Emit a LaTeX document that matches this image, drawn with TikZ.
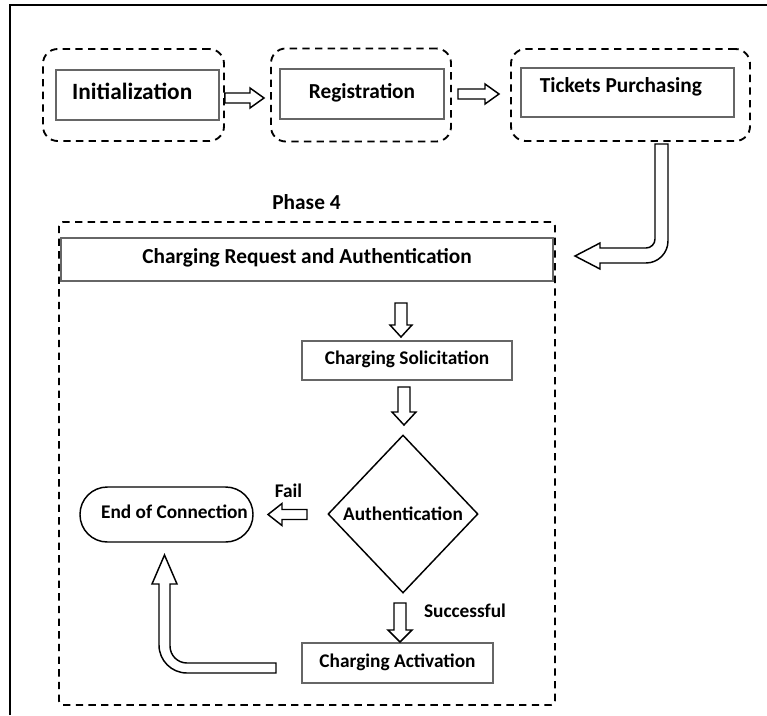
\documentclass[tikz,border=0pt]{standalone}
\usepackage{fontspec}
\setmainfont{Carlito}
\usetikzlibrary{shapes.geometric,calc}

% text sizes
\newcommand{\hugetxt}{\fontsize{17.5pt}{20pt}\selectfont\bfseries}
\newcommand{\bigtxt}{\fontsize{16pt}{19pt}\selectfont\bfseries}
\newcommand{\smalltxt}{\fontsize{14.5pt}{17pt}\selectfont\bfseries}

% hollow block arrow from #1 (tail) to #2 (tip);
% #3 shaft half width, #4 head half width, #5 head length (all in px)
\newcommand{\blockarrow}[5]{%
  \path[hollow] let \p1=(#1), \p2=(#2),
      \n1={atan2(\y2-\y1,\x2-\x1)}, \n2={veclen(\x2-\x1,\y2-\y1)} in
    [shift={(\p1)}, rotate=\n1]
    (0pt,{-#3*0.75pt}) -- ({\n2*1pt-#5*0.75pt},{-#3*0.75pt})
    -- ({\n2*1pt-#5*0.75pt},{-#4*0.75pt}) -- ({\n2*1pt},0pt)
    -- ({\n2*1pt-#5*0.75pt},{#4*0.75pt}) -- ({\n2*1pt-#5*0.75pt},{#3*0.75pt})
    -- (0pt,{#3*0.75pt}) -- cycle;
}

\tikzset{
  sz/.style 2 args={minimum width=#1*0.75pt, minimum height=#2*0.75pt},
  frame/.style={line width=1.1pt, black},
  grp/.style={draw=black, line width=1.4pt, dash pattern=on 5.5pt off 4pt,
    rounded corners=11pt, inner sep=0pt},
  phasebox/.style={draw=black, line width=1.4pt, dash pattern=on 5.5pt off 4pt,
    rounded corners=3pt, inner sep=0pt},
  box/.style={draw=black!60, line width=1pt, inner sep=0pt, fill=white,
    text height=0.644em, text depth=0pt},
  hollow/.style={draw=black, fill=white, line width=1.1pt, line join=miter},
  lbl/.style={inner sep=0pt, text height=0.644em, text depth=0pt},
}

\begin{document}
\begin{tikzpicture}[x=0.75pt, y=-0.75pt]
\useasboundingbox (0,0) rectangle (767,715);
\fill[white] (0,0) rectangle (767,715);
\draw[frame] (10,715) -- (10,5) -- (767,5);

% ---- first three phases ----
\node[grp, sz={181}{92}] (g1) at (133.5,95) {};
\node[grp, sz={180}{93}] (g2) at (361,95) {};
\node[grp, sz={239}{92}] (g3) at (630.5,95) {};

\node[box, sz={163}{50}, font=\hugetxt] (b1) at (137.5,95) {Initialization\hspace*{8pt}};
\node[box, sz={164}{50}, font=\bigtxt] (b2) at (362,94) {Registration};
\node[box, sz={213}{49}, font=\bigtxt, text depth=6.5pt] (b3) at (627.5,92.5)
  {Tickets Purchasing\hspace*{10pt}};

\coordinate (a1t) at (g1.east |- 0,98);
\coordinate (a1h) at (264,98);
\coordinate (a2t) at (458,94);
\coordinate (a2h) at (499,94);
\blockarrow{a1t}{a1h}{5}{10}{14}
\blockarrow{a2t}{a2h}{5}{10}{14}

% bent arrow from the ticket phase down to phase 4
\path[hollow] (655,144) -- (668,144) -- (668,241)
  .. controls (668,253.1) and (658.1,263) .. (646,263)
  -- (600,263) -- (600,269) -- (575,256) -- (600,243) -- (600,248)
  -- (646,248) .. controls (650.97,248) and (655,243.97) .. (655,239) -- cycle;

% ---- phase 4 ----
\node[lbl, font=\bigtxt] (p4l) at (306.5,205) {Phase 4};
\node[phasebox, sz={496}{483}] (p4) at (307,463.5) {};
\node[box, sz={492}{43}, font=\bigtxt] (req) at (307,259.5) {Charging Request and Authentication};
\node[box, sz={210}{39}, font=\smalltxt] (sol) at (407,360.5) {Charging Solicitation};
\node[diamond, draw=black, line width=1.1pt, inner sep=0pt, minimum width=112.5pt,
  minimum height=118.5pt, font=\smalltxt] (auth) at (403,514) {Authentication};
\node[draw=black, line width=1.1pt, rounded corners=20.5pt, inner sep=0pt, sz={173}{55},
  font=\smalltxt, text height=0.644em, text depth=0pt] (end) at (166.5,514.5)
  {\hspace*{12pt}End of Connection};
\node[box, sz={191}{40}, font=\smalltxt] (act) at (397.5,663) {Charging Activation};

\node[lbl, font=\smalltxt] (fail) at (288.5,493) {Fail};
\node[lbl, font=\smalltxt] (succ) at (465,613) {Successful};

\coordinate (r1t) at (401,303);
\coordinate (r1h) at (401,337);
\coordinate (r2t) at (404,387);
\coordinate (r2h) at (404,425);
\coordinate (ft) at (307,514.5);
\coordinate (fh) at (268,514.5);
\coordinate (st) at (400,603);
\coordinate (sh) at (400,642);
\blockarrow{r1t}{r1h}{6}{11}{12}
\blockarrow{r2t}{r2h}{6}{12}{13}
\blockarrow{ft}{fh}{5}{11}{14}
\blockarrow{st}{sh}{6}{12}{12}

% bent arrow from charging activation back to the end of connection
\path[hollow] (276,663) -- (276,673) -- (187,673)
  .. controls (171.5,673) and (159,660.5) .. (159,645)
  -- (159,584) -- (152,584) -- (164.5,555) -- (177,584) -- (170,584) -- (170,646)
  .. controls (170,655.4) and (177.6,663) .. (187,663) -- cycle;
\end{tikzpicture}
\end{document}
